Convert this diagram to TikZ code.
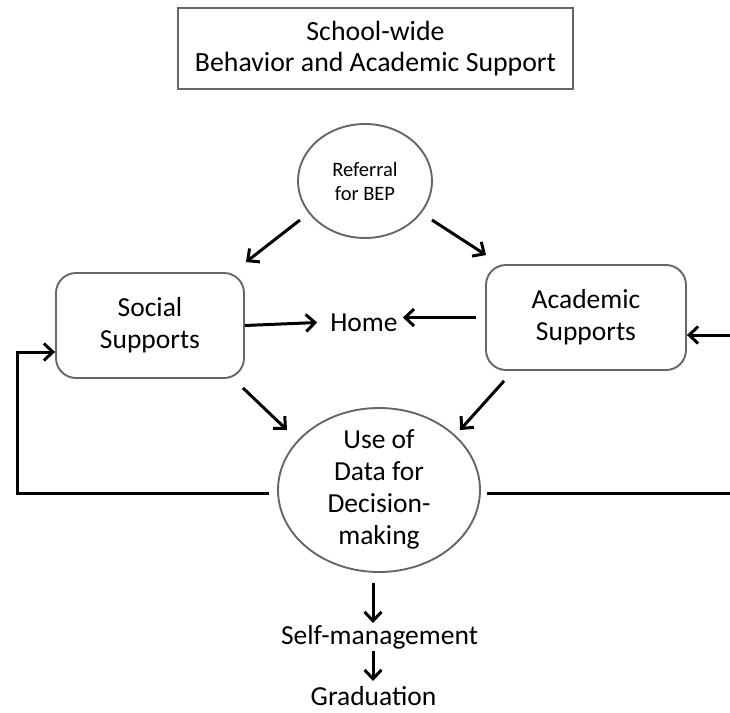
\documentclass[tikz,border=0pt]{standalone}
\usepackage{fontspec}
\setmainfont{Carlito}
\usetikzlibrary{arrows.meta,calc,shapes.geometric}
\begin{document}
\begin{tikzpicture}[x=1pt,y=-1pt,
  flow/.style={line width=3pt,-{Straight Barb[length=9pt,width=17pt]}},
  plain/.style={line width=3pt},
  edge/.style={draw=black!60,line width=1.9pt},
  rbox/.style={edge,rectangle,rounded corners=20pt,inner sep=0pt},
  oval/.style={edge,ellipse,inner sep=0pt},
  big/.style={font=\fontsize{27.5}{32}\selectfont},
  small/.style={font=\fontsize{20.5}{24}\selectfont},
]
\useasboundingbox (0,0) rectangle (730,712);

% heading box
\node[edge,rectangle,inner sep=0pt,minimum width=395pt,minimum height=81pt,
      align=center,font=\fontsize{27.8}{31}\selectfont] (title) at (375.5,48.5)
  {School-wide\\Behavior and Academic Support};

% referral oval
\node[oval,minimum width=134pt,minimum height=114pt,small,align=center]
  (referral) at (365,181) {Referral\\for BEP};

% support boxes
\node[rbox,minimum width=188pt,minimum height=105pt,big,align=center]
  (social) at (150,325.5) {Social\\Supports};
\node[rbox,minimum width=200pt,minimum height=105pt,big,align=center]
  (academic) at (586,317.5) {Academic\\Supports};

\node[big,inner sep=0pt] (home) at (364,322.5) {Home};

% data oval and its text
\node[oval,minimum width=202pt,minimum height=164pt] (data) at (379,490) {};
\node[big,align=center,inner sep=0pt] (datatext) at (379,489)
  {Use of\\Data for\\Decision-\\making};

\node[big,inner sep=0pt,anchor=base] (self) at (379.5,644) {Self-management};
\node[big,inner sep=0pt,anchor=base] (grad) at (373.5,705) {Graduation};

% free ends of the loop lines
\coordinate (rin) at (730,335);
\coordinate (fbl) at (17,493);
\coordinate (fbin) at (17,352);
\coordinate (fbr) at (730,493);

% connectors
\draw[flow] ($(referral.center)+(-65,39)$) -- ($(social.north east)+(1,-10)$);
\draw[flow] ($(referral.center)+(67,39)$) -- ($(academic.north west)+(1,-9)$);
\draw[flow] (social.east) -- ($(home.west)+(-13,0)$);
\draw[flow] ($(academic.west)+(-9,0)$) -- ($(home.east |- academic.west)+(5,0)$);
\draw[flow] (rin) -- (academic.east |- rin);
\draw[flow] ($(social.south east)+(-2,9)$) -- ($(data.center)+(-92,-60)$);
\draw[flow] ($(academic.south west)+(19,10)$) -- ($(data.center)+(81,-60)$);
\draw[flow] ($(data.west)+(-8,3)$) -- (fbl) -- (fbin) -- (social.west |- fbin);
\draw[plain] ($(data.east)+(6,3)$) -- (fbr);
\draw[flow] ($(data.south)+(-6,10)$) -- ($(self.base)+(-6.5,-21)$);
\draw[flow] ($(self.base)+(-6.5,7)$) -- ($(grad.base)+(-0.5,-24)$);
\end{tikzpicture}
\end{document}
